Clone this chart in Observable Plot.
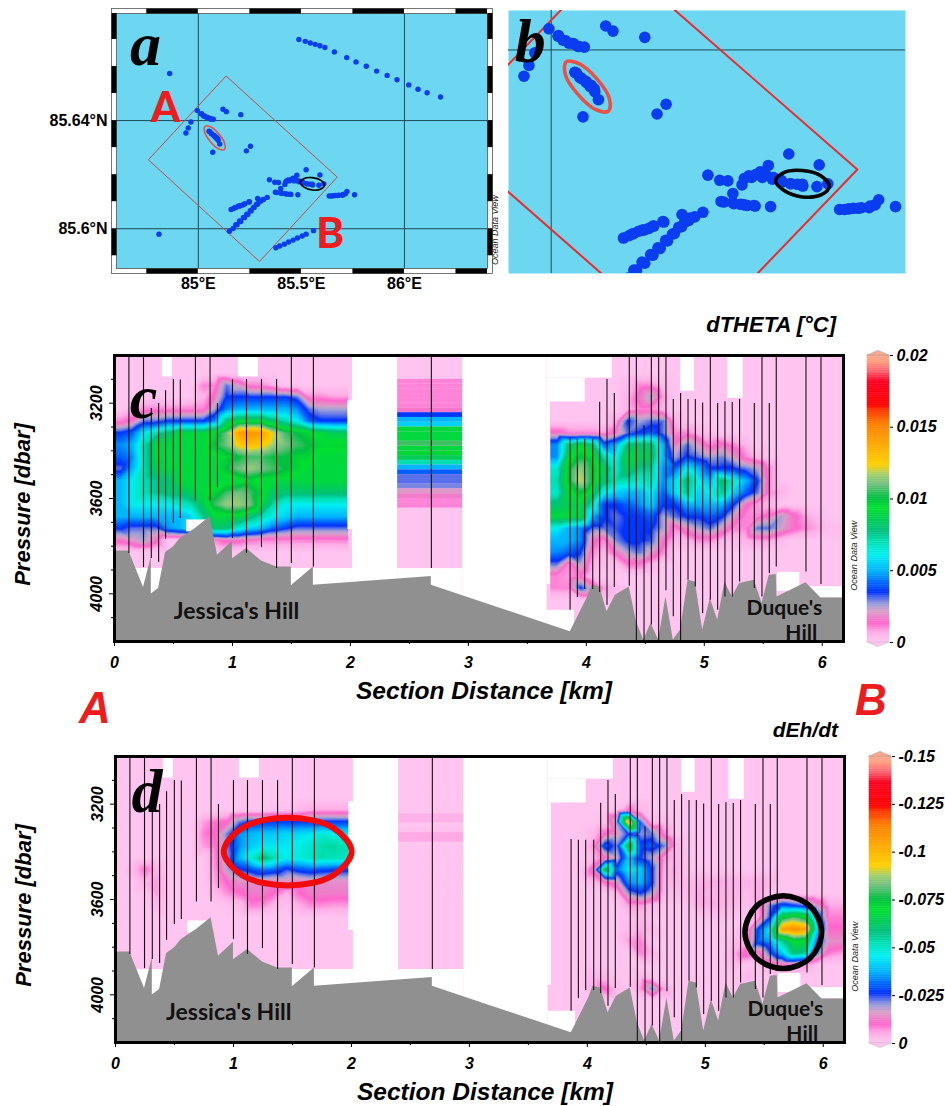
<!DOCTYPE html>
<html>
<head>
<meta charset="utf-8">
<script src="https://cdn.jsdelivr.net/npm/d3@7"></script>
<script src="https://cdn.jsdelivr.net/npm/@observablehq/plot@0.6"></script>
<style>
html,body{margin:0;padding:0;background:#fff}
#page{position:relative;width:945px;height:1106px;overflow:hidden;background:#fff}
.lab{position:absolute;font-family:"Liberation Sans",Arial,sans-serif;font-weight:700;font-style:italic;white-space:nowrap;line-height:1}
</style>
</head>
<body>
<div id="page"></div>
<script>
// ---------- Stations on the maps ----------
const stationLon = [85.488,85.519,85.543,85.567,85.590,85.614,85.660,85.720,85.765,85.815,85.865,85.916,85.964,86.021,86.066,86.110,86.175,
  84.861,84.809,
  84.995,85.016,85.032,85.049,85.062,85.073,85.120,85.136,85.206,84.964,84.951,84.940,85.015,85.026,85.039,85.059,
  85.052,85.063,85.076,85.086,85.096,85.104,85.070,85.253,85.233,85.056,85.067,85.078,85.088,85.095,
  85.523,85.590,85.345,85.371,85.389,85.425,85.420,85.441,85.460,85.478,85.473,85.489,85.400,85.374,85.400,85.425,85.449,85.483,85.506,85.527,85.554,85.585,85.609,
  85.435,85.450,85.465,85.487,85.509,85.527,85.542,85.553,85.402,85.417,85.432,85.380,85.446,
  85.635,85.655,85.676,85.700,85.713,85.721,85.758,85.646,85.665,85.683,85.702,
  85.159,85.178,85.201,85.224,85.246,85.288,85.334,85.171,85.182,85.193,85.204,85.215,85.226,85.248,
  85.151,85.169,85.188,85.206,85.224,85.240,85.256,85.271,85.287,85.303,85.316,85.182,85.200,85.219,85.235,85.252,85.267,85.281,85.294,85.305,
  85.376,85.395,85.417,85.438,85.460,85.481,85.504,85.523,85.559];
const stationLat = [85.6700,85.6693,85.6687,85.6682,85.6677,85.6670,85.6654,85.6633,85.6617,85.6601,85.6583,85.6567,85.6551,85.6532,85.6516,85.6503,85.6487,
  85.6574,85.5980,
  85.6437,85.6425,85.6416,85.6411,85.6406,85.6405,85.6442,85.6433,85.6422,85.6395,85.6373,85.6354,85.6424,85.6417,85.6412,85.6406,
  85.6361,85.6352,85.6345,85.6336,85.6327,85.6313,85.6283,85.6305,85.6288,85.6359,85.6350,85.6343,85.6338,85.6332,
  85.6218,85.6199,85.6181,85.6172,85.6171,85.6175,85.6164,85.6177,85.6187,85.6198,85.6181,85.6177,85.6149,85.6135,85.6133,85.6129,85.6127,85.6126,85.6172,85.6166,85.6162,85.6161,85.6166,
  85.6180,85.6182,85.6177,85.6174,85.6169,85.6166,85.6165,85.6165,85.6131,85.6130,85.6128,85.6134,85.6128,
  85.6121,85.6122,85.6123,85.6124,85.6129,85.6138,85.6126,85.6121,85.6123,85.6124,85.6127,
  85.6071,85.6078,85.6085,85.6092,85.6100,85.6112,85.6116,85.6075,85.6079,85.6083,85.6085,85.6088,85.6092,85.6099,
  85.5991,85.6001,85.6015,85.6027,85.6041,85.6053,85.6066,85.6079,85.6091,85.6102,85.6108,85.6015,85.6029,85.6042,85.6054,85.6067,85.6078,85.6090,85.6099,85.6106,
  85.5930,85.5936,85.5943,85.5951,85.5958,85.5966,85.5973,85.5980,85.5993];
const boxLon = [85.136,85.674,85.297,84.759];
const boxLat = [85.6564,85.6191,85.5879,85.6254];
const redRingLon = [85.126,85.128,85.101,85.061,85.033,85.031,85.058,85.097];
const redRingLat = [85.6293,85.6315,85.6349,85.6376,85.6379,85.6357,85.6323,85.6296];
const blackRingLon = [85.612,85.595,85.553,85.511,85.494,85.511,85.553,85.595];
const blackRingLat = [85.6161,85.6147,85.6143,85.6155,85.6171,85.6185,85.6189,85.6179];
const lonTicks = [85,85.5,86];
const latTicks = [85.64,85.6];
const lonBlack1 = [84.75,85.25,85.75,86.25];
const lonBlack2 = [85,85.5,86,86.403];
const latBlack1 = [85.6796,85.66,85.64,85.62,85.60];
const latBlack2 = [85.67,85.65,85.63,85.61,85.59];

// ---------- Section stations (shared by panels c and d) ----------
const castKm = [0.122,0.246,0.312,0.374,0.433,0.499,0.558,0.686,0.810,0.873,1.0,1.119,1.246,1.374,1.499,1.686,2.686,
  3.862,3.924,3.986,4.054,4.113,4.175,4.237,4.364,4.424,4.489,4.551,4.613,4.675,4.737,4.799,4.862,4.924,4.986,5.051,5.113,5.175,5.237,5.299,5.424,5.489,5.551,5.610,5.862,5.989];
const castTop = [3000,3000,3222,3201,3148,3101,3103,3000,3000,3201,3101,3101,3101,3101,3000,3000,3000,
  3348,3351,3351,3351,3196,3101,3159,3000,3000,3295,3000,3000,3000,3185,3159,3185,3185,3199,3000,3201,3194,3197,3185,3201,3000,3201,3000,3000,3000];
const castBottom = [3831,3890,3852,3869,3771,3705,3684,3610,3610,3554,3768,3831,3806,3894,3873,3887,3894,
  4069,4015,3982,3982,3994,4048,3973,3968,4200,4200,4131,4200,3987,4096,4200,3943,3971,4082,4027,4069,4013,4013,3950,3978,4013,3915,3887,3908,3961];
const bathyKm = [0,0.122,0.246,0.312,0.312,0.374,0.433,0.499,0.558,0.686,0.810,0.873,1.0,1.0,1.119,1.246,1.374,1.499,1.499,1.686,1.686,2.686,2.686,3.864,4.011,4.048,4.113,4.175,4.246,4.364,4.424,4.486,4.548,4.613,4.675,4.737,4.799,4.862,4.924,4.986,5.051,5.113,5.175,5.237,5.299,5.424,5.489,5.551,5.610,5.616,5.862,5.989,6.18];
const bathyDbar = [3820,3820,3973,3845,4001,3978,3827,3803,3768,3726,3677,3838,3779,3853,3810,3862,3887,3887,3966,3887,3964,3927,3964,4159,4013,3964,3971,4075,4006,3971,4117,4194,4124,4194,4013,4194,4152,3943,3950,4152,4020,4110,3950,4013,3957,3943,4040,3922,3919,4013,3954,4017,4017];
const redOvalKm = [2.002,1.843,1.46,1.077,0.918,1.077,1.46,1.843];
const redOvalDbar = [3399,3499,3541,3499,3399,3299,3257,3299];
const blackOvalKm = [5.986,5.891,5.661,5.431,5.336,5.431,5.661,5.891];
const blackOvalDbar = [3737,3845,3890,3845,3737,3629,3584,3629];

// White, unsampled areas of both sections: km from, km to, dbar from, dbar to
const gapKm1 = [0.405,1.05,1.978,2.017,2.952,3.667,3.667,3.667,4.80,5.20,0.61,5.62,5.90,0,2.40,3.667];
const gapKm2 = [0.49,1.22,2.017,2.40,3.667,4.22,3.99,3.695,4.915,5.33,0.78,5.81,6.18,2.017,2.952,3.90];
const gapDb1 = [3000,3000,3190,3000,3000,3000,3095,3195,3000,3000,3690,3910,3970,3894,3894,4069];
const gapDb2 = [3090,3090,3730,4200,4200,3095,3195,3960,3150,3180,3740,3990,4017,4200,4200,4200];

// ---------- Gridded fields (1e-3 units), trailing zeros left out ----------
const fieldDbar = [3075,3125,3175,3225,3275,3325,3375,3425,3475,3525,3575,3625,3675,3725,3775,3825,3875,3925,3975,4025];
const westKm = [0.05,0.15,0.25,0.35,0.45,0.55,0.65,0.75,0.85,0.95,1.05,1.15,1.25,1.35,1.45,1.55,1.65,1.75,1.85,1.95];
const eastKm = [3.75,3.85,3.95,4.05,4.15,4.25,4.35,4.45,4.55,4.65,4.75,4.85,4.95,5.05,5.15,5.25,5.35,5.45,5.55,5.65,5.75,5.85,5.95,6.05,6.15];
const thetaWest = [
 [],
 [0,0,0,0,0,0,0,1,1,3,2,1,1,.5],
 [0,0,0,0,0,0,0,.5,1.5,3.5,3.5,3.5,3.5,3.5,3.5,3,1,1,.8,.8],
 [0,.5,1,1,1,1,1,1,2.5,4.5,5,5,5,5,5,4.5,3,2.5,2.5,2.5],
 [1,1.5,3,3,3.5,3.5,3.5,3.5,4.5,8,9,9,9,8,7,6,4,3.5,3.5,3.5],
 [3.5,4,6,7,8,9,9,9,9.5,11,14,14.5,14,12,10.5,10,9.5,9,8.5,8.5],
 [4.5,5,7,9,9,9,9,9,10,11,12.5,13,12.5,11.5,11,10.5,10,9.5,9.5,9.5],
 [4,4.5,7,9,9,9,9,9,9,9.5,10,10.5,10.5,10,10,9.5,9.5,9,9,9],
 [3,5,7,8.5,9,9,9,9,9,10,11,11.5,11,10.5,10,9.5,9,9,9,9],
 [5,6,7,7.5,8,9,9,9,9,9,9,9.5,9,9,9,9,9,9,9,9],
 [5,6,7,7.5,8,8,8.5,9,9.5,10.5,11,10.5,9.5,8,8,8,8,8,8,8],
 [5,6,6,6,6,6.5,7,8.5,10.5,11.5,11.5,11,9,7,6,6,6,6,6,6],
 [5,5,5,5,5,5,5.5,7.5,9,9,9,8,7,6,5.5,5,5,5,5,5],
 [3.5,3,3,3,4.5,5,6,7,8,8,6.5,5.5,5,4,3.5,3,3,3,3,3],
 [1.5,2,2.5,1.5,0,0,0,0,1,1.5,1.5,1.2,1,1,1,1,1,1,1,1],
 [],[],[],[],[]];
const thetaEast = [
 [],
 [0,0,0,0,0,0,.3,1,1,.3],
 [0,0,0,0,0,0,.5,1.5,2.5,.8],
 [0,0,0,0,0,0,.5,1,1,.5],
 [0,0,0,0,0,.6,3.5,2.5,3,3,.6],
 [1.5,1,1,1,.8,1.5,3,3.5,4,3,1,1,.5,.2],
 [4.5,8,9,8,4,5,8,8,8,5,1.5,3,2,1,1.5,1,.5],
 [4.5,9,10,9.5,7,6,9,8.5,8.5,5,2.5,3.5,3,2.5,2.8,2,1,.4],
 [6.5,10,11.5,10,8.5,6.5,8.5,7.5,7.5,4.5,4,6,5,3.5,3.5,3.5,3,2.5,1],
 [7,10,12,10,8,7,7,6.5,7,4.5,5.5,8,6,5,8,6.5,5,3.5,1],
 [6.5,9,10,9,6,5.5,5,5,6,4,5.5,7.5,5.5,6,7.5,5.5,4,3,1,.5],
 [8,8.5,9,7,3.5,3.5,4,4.5,5.5,3.5,3.5,5,5,5,5,3.5,1.5,.8,.5],
 [9,9,9,5,3.5,3,3.5,3.5,4,2.5,3,3.5,3.5,4,3.5,2,1,1,1.5,2.5,1.5,.8,.3],
 [6,5,4.5,3,3,3.2,3.5,3.5,3.5,2.5,1,1.8,2.5,3,2,1,1,3,3,2.2,1.5,1,.7,.2,.2],
 [5,5,4.5,1.5,1,2.8,3.5,3.5,3.2,1.5,.5,.5,1,1,.5,.3,.5,.8,.8,.3],
 [4.5,4,3.5,1,.5,1.5,2.5,3,2,1],
 [3,1,2.5,.5,.2,.2,1.2,1.2,.5],
 [1,.8,1.2,.2],
 [1,1,3.5,2,.8,.3],
 []];
const ehWest = [
 [],[],[],
 [0,0,0,0,0,0,0,0,0,0,0,0,0,1,1,2,5,5,5,5],
 [0,0,0,0,0,0,0,6,9,10,22,27,27,27,27,27,27,27,27,27],
 [0,0,0,0,0,0,0,8,10,22,34,38,40,40,42,42,44,48,46,44],
 [0,0,0,0,0,0,0,6,9,22,34,40,44,44,44,46,49,53,54,52],
 [0,0,0,0,0,0,0,0,8,20,38,48,60,52,46,47,50,53,52,50],
 [0,3,9,4,0,0,0,0,7,18,25,28,32,30,24,28,30,28,27,27],
 [0,0,4,6,0,0,0,0,6,10,14,14,14,12,14,12,14,14,14,14],
 [0,0,0,6,0,0,0,0,3,7,9,12,12,9,4,9,12,12,12,12],
 [0,0,0,3,0,0,0,0,0,1,2,8,7,3,1,4,7,7,6,6],
 [],[],[],[],[],[],[],[]];
const ehEast = [
 [],[],[],
 [0,0,0,0,0,1,10,3],
 [0,0,0,0,1,20,105,24,2,2],
 [0,0,0,3,10,14,26,20,22,8],
 [0,0,0,7,30,22,68,28,30,22,4],
 [0,0,0,3,10,16,40,25,18,6,4],
 [0,0,1,12,65,30,45,40,26,4,5],
 [0,0,0,3,10,14,35,38,26,3,4,2,4,5,5,4,4,5,3],
 [0,0,0,0,0,3,20,25,18,2,2,1.5,5,4,4,4,2,5],
 [0,0,0,0,0,0,6,6,2,0,0,0,5,5,4,3,1,6,22,30,26,22,14,5,5],
 [0,0,0,0,0,0,1,3,0,0,0,0,0,1,1,0,0,5,26,72,80,72,30,8,8],
 [0,0,0,0,0,0,2,5,3,0,0,0,0,0,0,0,4,28,45,105,110,105,42,10,10],
 [0,0,0,0,0,0,6,8,0,0,0,0,0,0,0,2,4,30,36,55,70,68,30,14,14],
 [0,0,0,0,0,0,0,8,4,0,0,0,0,0,0,5,12,8,24,40,60,55,22,8,6],
 [0,0,0,0,0,0,0,0,0,0,0,0,0,0,0,2,0,0,3,7,8,6,1],
 [0,0,0,3,3,0,0,3,0,0,0,0,0,0,0,0,3],
 [0,0,0,4,10,2,0,6,22,6],
 []];
// Single cast near 2.7 km: stripes
const stripeDbar = [3110,3130,3150,3170,3190,3210,3230,3250,3270,3290,3310,3330,3350,3370,3390,3410,3430,3450,3470,3490,3510,3530,3550,3570,3590,3610,3630];
const stripeTheta = [1,1,1,1,1,1,1.5,3.5,5,5.5,9,9,9,10.5,9,9.5,8.5,7,5,4,3,3,2.8,2,1.6,1,1];
const stripeEh = [0,0,0,0,0,0,0,4,4,0,1,5,5,0,0,0,0,0,0,0,0,0,0,0,0,0,0];

// ---------- Colour bar (ODV) ----------
const colorStops = [0,.03,.064,.105,.128,.157,.17,.21,.244,.30,.35,.384,.43,.465,.5,.547,.58,.616,.686,.756,.81,.825,.907,.94,.977,1];
const colorRamp = ["#ffc4f0","#ffb0e8","#ff66cc","#d8a0c8","#a0a0d8","#4060f0","#0030ff","#0070ff","#00b0ff","#00f0f0","#00e0b0","#00c080","#00d050","#00e030","#00c040","#70c080","#a0d070","#ffd000","#ffa800","#ff8000","#ff3000","#ff0000","#ff0020","#ff6070","#ffa080","#ffa890"];
const thetaTicks = [0,0.005,0.01,0.015,0.02];
const ehTicks = [0,-0.025,-0.05,-0.075,-0.1,-0.125,-0.15];

const page = document.getElementById("page");
const sans = "Liberation Sans, Arial, sans-serif";
const serif = "Liberation Serif, Times New Roman, serif";
const note = "Lato, sans-serif";
const place = (svg) => { page.appendChild(svg); return svg; };
const baseStyle = (left, top) => ({position:"absolute",left:left+"px",top:top+"px",background:"transparent",overflow:"visible",fontFamily:sans,fontWeight:"700",fontStyle:"italic",fontSize:"16px",color:"#000"});

function label(text, left, top, size, color, right) {
  const d = document.createElement("div");
  d.className = "lab"; d.textContent = text;
  d.style.top = top+"px"; d.style.fontSize = size+"px"; d.style.color = color;
  if (right !== undefined) d.style.right = (945-right)+"px"; else d.style.left = left+"px";
  page.appendChild(d);
}

// ---------- Panels a, b ----------
function mapPanel(o) {
  const marks = [
    Plot.frame({fill:"#6dd6f0",stroke:"none"}),
    Plot.ruleX(o.lonRules,{stroke:"#1d4a58",strokeWidth:1,clip:true}),
    Plot.ruleY(o.latRules,{stroke:"#1d4a58",strokeWidth:1,clip:true}),
    Plot.line(boxLon,{x:boxLon,y:boxLat,curve:"linear-closed",stroke:o.boxColor,strokeWidth:o.boxWidth,clip:true}),
    Plot.dot(stationLon,{x:stationLon,y:stationLat,r:o.r,fill:"#0a3cf0",stroke:"none",clip:true}),
    Plot.line(redRingLon,{x:redRingLon,y:redRingLat,curve:"catmull-rom-closed",stroke:"#ea5046",strokeWidth:o.ringWidth}),
    Plot.line(blackRingLon,{x:blackRingLon,y:blackRingLat,curve:"catmull-rom-closed",stroke:"#000",strokeWidth:o.ringWidth}),
    Plot.text([o.letter],{x:[o.letterLon],y:[o.letterLat],fontFamily:serif,fontSize:62,fontWeight:700,fontStyle:"italic",fill:"#000"}),
    ...o.extra
  ];
  return place(Plot.plot({
    width:o.width,height:o.height,marginLeft:o.ml,marginRight:o.mr,marginTop:o.mt,marginBottom:o.mb,
    x:{domain:o.lonDomain,axis:null},y:{domain:o.latDomain,axis:null},
    style:baseStyle(o.left,o.top),marks
  }));
}
const latRange = [85.5853,85.6796], lonRange = [84.603,86.403];
const band = (lat,side) => Plot.ruleY(lonBlack1,{x1:lonBlack1,x2:lonBlack2,y:lat,dy:side,stroke:"#000",strokeWidth:5});
const bandV = (lon,side) => Plot.ruleX(latBlack1,{y1:latBlack1,y2:latBlack2,x:lon,dx:side,stroke:"#000",strokeWidth:5});
mapPanel({left:0,top:0,width:500,height:300,ml:116,mr:13,mt:13,mb:32,lonDomain:lonRange,latDomain:latRange,
  lonRules:[85,86],latRules:latTicks,boxColor:"#c84a42",boxWidth:1,r:2.7,ringWidth:1.6,letter:"a",letterLon:84.744,letterLat:85.668,
  extra:[
    Plot.frame({inset:-5,stroke:"#555",strokeWidth:.8}),
    Plot.frame({stroke:"#555",strokeWidth:.8}),
    band(latRange[1],-2.5),band(latRange[0],2.5),bandV(lonRange[0],-2.5),bandV(lonRange[1],2.5),
    Plot.axisX({ticks:lonTicks,tickFormat:d=>d+"°E",tickSize:0,tickPadding:9,fontSize:16,fontStyle:"normal",label:null,anchor:"bottom"}),
    Plot.axisY({ticks:latTicks,tickFormat:d=>d+"°N",tickSize:0,tickPadding:9,fontSize:16,fontStyle:"normal",label:null,anchor:"left"}),
    Plot.text(["A"],{x:[84.841],y:[85.6443],fontFamily:note,fontSize:42,fontWeight:900,fontStyle:"normal",fill:"#ee1c1c"}),
    Plot.text(["B"],{x:[85.640],y:[85.5978],fontFamily:note,fontSize:42,fontWeight:900,fontStyle:"normal",fill:"#ee1c1c"}),
    Plot.text(["Ocean Data View"],{x:[86.403],y:[85.5995],dx:8,rotate:-90,fontSize:9,fontWeight:400,fontStyle:"italic",fontFamily:sans,fill:"#222"})
  ]});
mapPanel({left:500,top:0,width:415,height:283,ml:8,mr:10,mt:10,mb:10,lonDomain:[84.906,85.780],latDomain:[85.6009,85.6469],
  lonRules:[85],latRules:[85.64],boxColor:"#ee2a2a",boxWidth:2,r:5.8,ringWidth:3.5,letter:"b",letterLon:84.954,letterLat:85.6413,extra:[]});

// ---------- Panels c, d ----------
function colorCfg(max) {
  return {type:"linear",domain:colorStops.map(t=>t*max),range:colorRamp,clamp:true,interpolate:"rgb"};
}
// Cells of a field; each row is also pinned at the block's outer edges so that it fills the block
function grid(rows, kms, edgeW, edgeE) {
  const out = [];
  rows.forEach((row,i) => {
    kms.forEach((km,j) => out.push({km,dbar:fieldDbar[i],v:row[j] ?? 0}));
    out.push({km:edgeW,dbar:fieldDbar[i],v:row[0] ?? 0});
    out.push({km:edgeE,dbar:fieldDbar[i],v:row[kms.length-1] ?? 0});
  });
  return out;
}
function sectionPanel(o) {
  const toVal = d => d.v*o.unit;
  const west = grid(o.west,westKm,0,1.98), east = grid(o.east,eastKm,3.695,6.18);
  const marks = [
    Plot.rect([0],{x1:[0],x2:[6.18],y1:[3000],y2:[4200],fill:[0]}),
    Plot.raster(west,{x:"km",y:"dbar",fill:toVal,interpolate:"barycentric",x1:0,x2:1.98,y1:3000,y2:4000}),
    Plot.raster(east,{x:"km",y:"dbar",fill:toVal,interpolate:"barycentric",x1:3.695,x2:6.18,y1:3000,y2:4100}),
    Plot.rect(stripeDbar,{x1:2.40,x2:2.952,y1:stripeDbar.map(d=>d-10),y2:stripeDbar.map(d=>d+10),fill:o.stripe.map(v=>v*o.unit)}),
    Plot.rect(gapKm1,{x1:gapKm1,x2:gapKm2,y1:gapDb1,y2:gapDb2,fill:"#fff"}),
    Plot.area(bathyKm,{x1:bathyKm,y1:bathyDbar,y2:bathyKm.map(()=>4200),fill:"#909090"}),
    Plot.ruleX(castKm,{x:castKm,y1:castTop,y2:castBottom,stroke:"#111",strokeWidth:1.1}),
    ...o.rings,
    Plot.text(["Jessica's Hill"],{x:[o.jessicaKm],y:[4075],fontFamily:note,fontSize:23,fontWeight:700,fontStyle:"normal",fill:"#111"}),
    Plot.text(["Duque's\nHill\u00A0"],{x:[6.0],y:[4108],textAnchor:"end",lineHeight:1.2,fontFamily:note,fontSize:21,fontWeight:700,fontStyle:"normal",fill:"#111"}),
    Plot.text([o.letter],{x:[o.letterKm],y:[o.letterDbar],fontFamily:serif,fontSize:62,fontWeight:700,fontStyle:"italic",fill:"#000"}),
    Plot.text(["Ocean Data View"],{x:[6.18],y:[3840],dx:11,rotate:-90,fontSize:9,fontWeight:400,fontFamily:sans,fill:"#222"}),
    Plot.frame({stroke:"#000",strokeWidth:3}),
    Plot.axisX({ticks:[0,1,2,3,4,5,6],tickFormat:d=>String(d),tickSize:5,tickPadding:10,fontSize:16,label:null}),
    Plot.axisX({ticks:[0.5,1.5,2.5,3.5,4.5,5.5],tickSize:3,text:null,label:null}),
    Plot.axisY({ticks:[3200,3600,4000],tickFormat:d=>String(d),tickSize:5,tickPadding:8,tickRotate:-90,fontSize:16,label:null}),
    Plot.axisY({ticks:[3100,3300,3400,3500,3700,3800,3900,4100],tickSize:3,text:null,label:null}),
    Plot.text(["Section Distance [km]"],{frameAnchor:"bottom",dx:5,dy:57,fontSize:24.5}),
    Plot.text(["Pressure [dbar]"],{frameAnchor:"left",textAnchor:"middle",dx:-92,dy:6,rotate:-90,fontSize:22})
  ];
  return place(Plot.plot({
    width:o.ml+729+4,height:o.mt+286+o.mb,marginLeft:o.ml,marginRight:4,marginTop:o.mt,marginBottom:o.mb,
    x:{domain:[0,6.18],axis:null},y:{domain:[3000,4200],reverse:true,axis:null},
    color:colorCfg(o.max),
    style:baseStyle(0,o.top),marks
  }));
}
sectionPanel({top:340,ml:114,mt:15,mb:60,unit:0.001,max:0.02,west:thetaWest,east:thetaEast,stripe:stripeTheta,jessicaKm:1.034,letter:"c",letterKm:0.246,letterDbar:3180,rings:[]});
sectionPanel({top:740,ml:115,mt:16,mb:60,unit:-0.001,max:-0.15,west:ehWest,east:ehEast,stripe:stripeEh,jessicaKm:0.96,letter:"d",letterKm:0.266,letterDbar:3151,rings:[
  Plot.line(redOvalKm,{x:redOvalKm,y:redOvalDbar,curve:"catmull-rom-closed",stroke:"#f00c0c",strokeWidth:6}),
  Plot.line(blackOvalKm,{x:blackOvalKm,y:blackOvalDbar,curve:"catmull-rom-closed",stroke:"#000",strokeWidth:5.5})
]});

// ---------- Colour bars ----------
function colorBar(o) {
  const steps = d3.range(0,1,1/160);
  const tipY = [o.max,o.max*1.016], tipX = [0,0.5], tipW = [1,0.5];
  const baseY = [0,-o.max*0.016];
  place(Plot.plot({
    width:85,height:307,marginLeft:7,marginRight:56,marginTop:10,marginBottom:10,
    x:{domain:[0,1],axis:null},y:{domain:[0,o.max],axis:null},
    color:colorCfg(o.max),style:baseStyle(o.left,o.top),
    marks:[
      Plot.rect(steps,{x1:0,x2:1,y1:t=>t*o.max,y2:t=>(t+1/160)*o.max,fill:t=>t*o.max,stroke:t=>t*o.max,strokeWidth:.4}),
      Plot.areaX(tipY,{x1:tipX,x2:tipW,y:tipY,fill:"#ffa890",stroke:"#999",strokeWidth:.5}),
      Plot.areaX(baseY,{x1:tipX,x2:tipW,y:baseY,fill:"#ffc4f0",stroke:"#bbb",strokeWidth:.5}),
      Plot.axisY({anchor:"right",ticks:o.ticks,tickFormat:d=>String(d),tickSize:3,tickPadding:4,fontSize:16,label:null})
    ]
  }));
}
colorBar({left:860,top:345,max:0.02,ticks:thetaTicks});
colorBar({left:862,top:746,max:-0.15,ticks:ehTicks});

// ---------- Header words over the sections ----------
label("dTHETA [°C]",0,314,22,"#000",836);
label("dEh/dt",0,719,21,"#000",838);
label("A",79,686,44,"#ee1c1c");
label("B",855,678,44,"#ee1c1c");
</script>
</body>
</html>
